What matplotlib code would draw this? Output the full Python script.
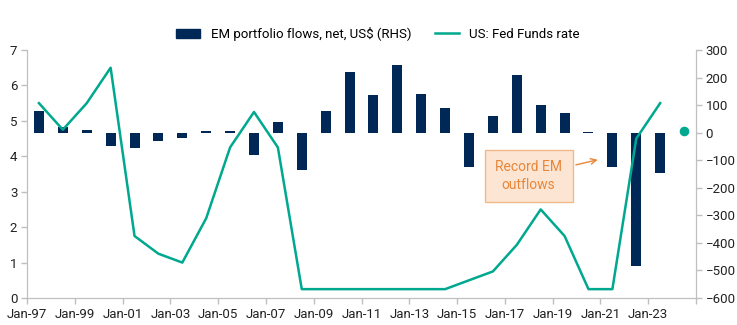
import numpy as np
import matplotlib
matplotlib.use("Agg")
import matplotlib.pyplot as plt
from matplotlib.patches import Patch
from matplotlib.lines import Line2D

plt.rcParams['font.family'] = ['Liberation Sans Narrow', 'Roboto', 'DejaVu Sans']

# Annual data, plotted mid-year
years = list(range(1997, 2024))
em_flows = [80, 20, 10, -50, -55, -32, -18, 5, 5, -80, 40, -135, 80, 220,
            135, 245, 140, 90, -125, 60, 210, 100, 70, 3, -125, -485, -145]
fed_funds = [5.5, 4.75, 5.5, 6.5, 1.75, 1.25, 1.0, 2.25, 4.25, 5.25, 4.25,
             0.25, 0.25, 0.25, 0.25, 0.25, 0.25, 0.25, 0.5, 0.75, 1.5, 2.5,
             1.75, 0.25, 0.25, 4.5, 5.5]
ytd_year = 2024
em_flows_ytd = 5

tick_years = list(range(1997, 2024, 2))
tick_labels = [f"Jan-{y % 100:02d}" for y in tick_years]

NAVY = '#002856'
TEAL = '#00A88F'
ORANGE = '#E8873A'
GRID = '#BFBFBF'
FS = 9.5

fig = plt.figure(figsize=(7.37, 3.25), dpi=100)
ax = fig.add_axes([27 / 737, 27 / 325, 669 / 737, 248 / 325])
ax2 = ax.twinx()
ax.set_zorder(ax2.get_zorder() + 1)
ax.patch.set_visible(False)

x = np.array(years) + 0.5
ax2.bar(x, em_flows, width=0.42, color=NAVY, zorder=2)
ax2.scatter([ytd_year + 0.5], [em_flows_ytd], s=35, color=TEAL, zorder=3)
ax.plot(x, fed_funds, color=TEAL, lw=1.8, zorder=3)

ax.set_xlim(1997, 2025)
ax.set_ylim(0, 7)
ax2.set_ylim(-600, 300)
ax.set_xticks(tick_years + [2025])
ax.set_xticklabels(tick_labels + [''])
ax.set_yticks(range(0, 8))
ax2.set_yticks(range(-600, 301, 100))

for a in (ax, ax2):
    a.spines['top'].set_visible(False)
    for s in ('left', 'right', 'bottom'):
        a.spines[s].set_color(GRID)
    a.tick_params(colors=GRID, labelcolor='#222222', labelsize=FS,
                  length=4, width=1, pad=3)

# Callout for the 2022 outflow
ax2.annotate('Record EM\noutflows', xy=(2021.0, -96), xytext=(2018.0, -157),
             ha='center', va='center', color=ORANGE, fontsize=FS + 0.5,
             linespacing=1.35,
             bbox=dict(boxstyle='square,pad=0.75', fc='#FCE5D3', ec='#F2B98A', lw=1),
             arrowprops=dict(arrowstyle='->', color=ORANGE, lw=1))

handles = [Patch(color=NAVY, label='EM portfolio flows, net, US$ (RHS)'),
           Line2D([], [], color=TEAL, lw=1.8, label='US: Fed Funds rate')]
fig.legend(handles=handles, loc='center', bbox_to_anchor=(378 / 737, 1 - 34 / 325),
           ncol=2, frameon=False, fontsize=FS, handlelength=1.8,
           columnspacing=1.8, handletextpad=0.8)

fig.savefig('out.png', dpi=100)
